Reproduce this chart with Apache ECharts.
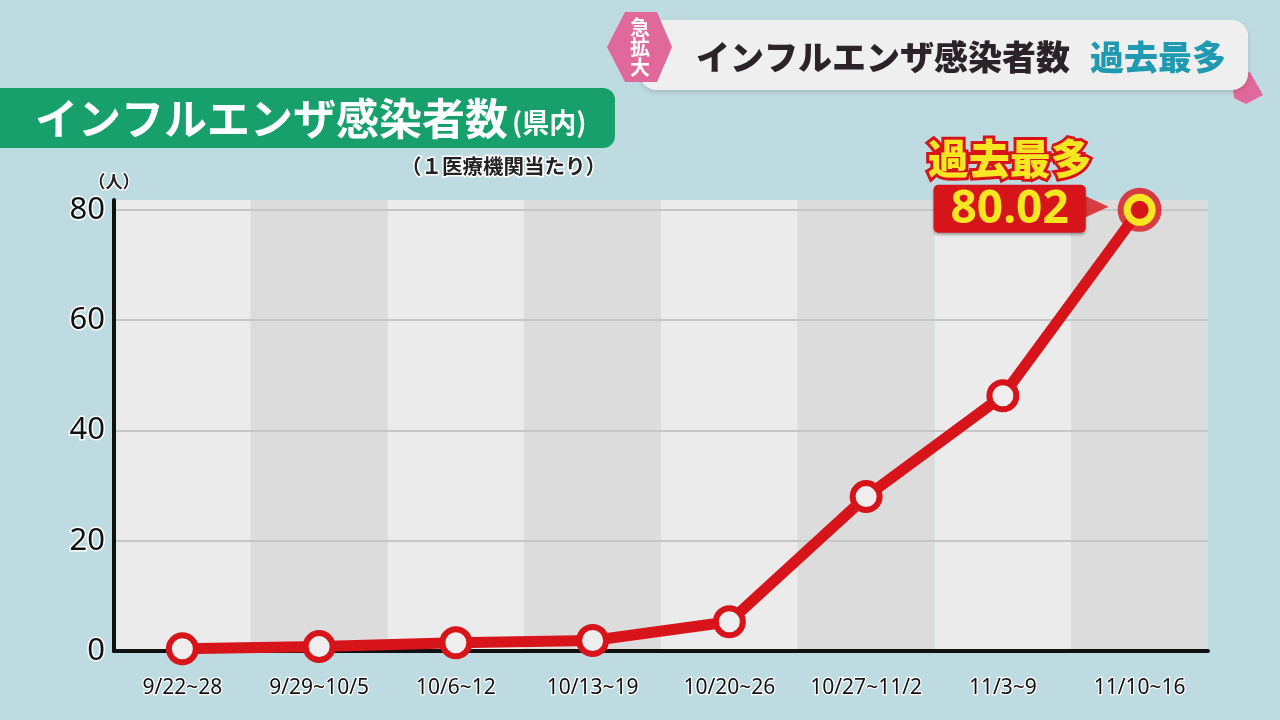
<!DOCTYPE html>
<html>
<head>
<meta charset="utf-8">
<script src="https://cdn.jsdelivr.net/npm/echarts@6/dist/echarts.min.js"></script>
<style>
html,body{margin:0;padding:0;background:#bedbe1;}
#c{width:1280px;height:720px;}
</style>
</head>
<body>
<div id="c"></div>
<script>
const categories = ['9/22~28','9/29~10/5','10/6~12','10/13~19','10/20~26','10/27~11/2','11/3~9','11/10~16'];
const values = [0.4, 0.8, 1.5, 1.9, 5.3, 28.0, 46.3, 80.02];
const yTicks = [0, 20, 40, 60, 80];
const peakLabel = '過去最多';
const unitLabel = '（人）';

const RED = '#d8141b';
const YEL = '#f7e622';
const JP = '"Noto Sans CJK JP", "Noto Sans", sans-serif';
const last = values.length - 1;

const lineData = values.map((v, i) => {
  if (i !== last) return v;
  return {
    value: v,
    symbolSize: 25,
    itemStyle: { color: RED, borderColor: YEL, borderWidth: 7 },
    label: {
      show: true,
      position: 'left',
      distance: 32,
      offset: [0, -24],
      formatter: '{t|' + peakLabel + '}\n{v|' + v.toFixed(2) + '}',
      rich: {
        t: { fontFamily: JP, fontSize: 41, fontWeight: 900, color: YEL, textBorderColor: RED, textBorderWidth: 6, lineHeight: 46, align: 'center' },
        v: { fontFamily: '"Noto Sans", Roboto, sans-serif', fontSize: 46, fontWeight: 'bold', color: YEL, backgroundColor: RED, borderRadius: 5, padding: [2, 17, 0, 17], lineHeight: 54, align: 'center', shadowColor: 'rgba(0,0,0,0.35)', shadowOffsetY: 2, shadowBlur: 3 }
      }
    }
  };
});
const peakOnly = values.map((v, i) => i === last ? v : '-');

const chart = echarts.init(document.getElementById('c'));
chart.setOption({
  backgroundColor: '#bedbe1',
  animation: false,
  grid: { left: 114, right: 72, top: 200, bottom: 69 },
  xAxis: {
    type: 'category',
    data: categories,
    boundaryGap: true,
    z: 0,
    axisLine: { lineStyle: { color: '#111', width: 4 } },
    axisTick: { show: false },
    splitArea: { show: true, interval: 0, areaStyle: { color: ['#ebebeb', '#dcdcdc'] } },
    axisLabel: { interval: 0, fontFamily: '"Liberation Sans Narrow", "Noto Sans", sans-serif', fontSize: 21, color: '#111', textBorderColor: '#fff', textBorderWidth: 2.5, margin: 27 }
  },
  yAxis: {
    type: 'value',
    min: 0,
    max: 81.8,
    interval: 20,
    z: 1,
    name: unitLabel,
    nameLocation: 'end',
    nameGap: 10,
    nameTextStyle: { fontFamily: JP, fontSize: 17, fontWeight: 'bold', color: '#222', textBorderColor: '#fff', textBorderWidth: 2.5, align: 'center' },
    axisLine: { show: true, lineStyle: { color: '#111', width: 4 } },
    axisTick: { show: false },
    axisLabel: {
      fontFamily: '"Noto Sans", Roboto, sans-serif', fontSize: 31, color: '#111', textBorderColor: '#fff', textBorderWidth: 3, margin: 9,
      showMaxLabel: false,
      formatter: v => yTicks.indexOf(v) >= 0 ? String(v) : ''
    },
    splitLine: { show: true, showMaxLine: false, showMinLine: false, lineStyle: { color: '#c6c6c6', width: 2 } }
  },
  series: [
    {
      type: 'scatter', data: peakOnly, symbol: 'circle', symbolSize: 44, z: 2,
      itemStyle: { color: RED }, silent: true
    },
    {
      type: 'scatter', data: peakOnly, symbol: 'triangle', symbolRotate: -90, symbolSize: [22, 24], symbolOffset: [-43, -3], z: 2,
      itemStyle: { color: RED }, silent: true
    },
    {
      type: 'line', data: lineData, z: 3,
      symbol: 'circle', symbolSize: 27,
      lineStyle: { color: RED, width: 11 },
      itemStyle: { color: '#eeeeee', borderColor: RED, borderWidth: 6 }
    }
  ],
  graphic: [
    // green banner
    { type: 'rect', shape: { x: -20, y: 88, width: 635, height: 60, r: 12 }, style: { fill: '#17a06c' }, z: 10 },
    { type: 'text', x: 35, y: 119, z: 11, style: { text: '{a|インフルエンザ感染者数}{b|(県内)}', verticalAlign: 'middle', rich: {
      a: { fontFamily: JP, fontSize: 43, fontWeight: 'bold', fill: '#fff' },
      b: { fontFamily: JP, fontSize: 27, fontWeight: 'bold', fill: '#fff', padding: [8, 0, 0, 4] }
    } } },
    { type: 'text', x: 606, y: 166, z: 11, style: { text: '（１医療機関当たり）', align: 'right', verticalAlign: 'middle', fontFamily: JP, fontSize: 20.5, fontWeight: 'bold', fill: '#222', stroke: '#fff', lineWidth: 3 } },
    // top header
    { type: 'rect', shape: { x: 640, y: 20, width: 608, height: 70, r: 16 }, style: { fill: '#efefef', shadowColor: 'rgba(0,0,0,0.15)', shadowBlur: 4, shadowOffsetY: 2 }, z: 10 },
    { type: 'polygon', shape: { points: [[1232, 78], [1250, 72], [1263, 95], [1246, 104], [1234, 98]] }, style: { fill: '#e0689a' }, z: 9 },
    { type: 'polygon', shape: { points: [[625, 12], [657, 12], [672, 47], [657, 82], [625, 82], [607, 47]] }, style: { fill: '#e0689a' }, z: 12 },
    { type: 'text', x: 640, y: 27, z: 13, style: { text: '急', align: 'center', verticalAlign: 'middle', fontFamily: JP, fontSize: 20, fontWeight: 'bold', fill: '#fff' } },
    { type: 'text', x: 640, y: 47, z: 13, style: { text: '拡', align: 'center', verticalAlign: 'middle', fontFamily: JP, fontSize: 20, fontWeight: 'bold', fill: '#fff' } },
    { type: 'text', x: 640, y: 67, z: 13, style: { text: '大', align: 'center', verticalAlign: 'middle', fontFamily: JP, fontSize: 20, fontWeight: 'bold', fill: '#fff' } },
    { type: 'text', x: 696, y: 57, z: 13, style: { text: '{a|インフルエンザ感染者数}{b|過去最多}', verticalAlign: 'middle', rich: {
      a: { fontFamily: JP, fontSize: 34, fontWeight: 900, fill: '#2b2327' },
      b: { fontFamily: JP, fontSize: 34, fontWeight: 900, fill: '#1f9ab0', padding: [0, 0, 0, 20] }
    } } }
  ]
});
</script>
</body>
</html>
